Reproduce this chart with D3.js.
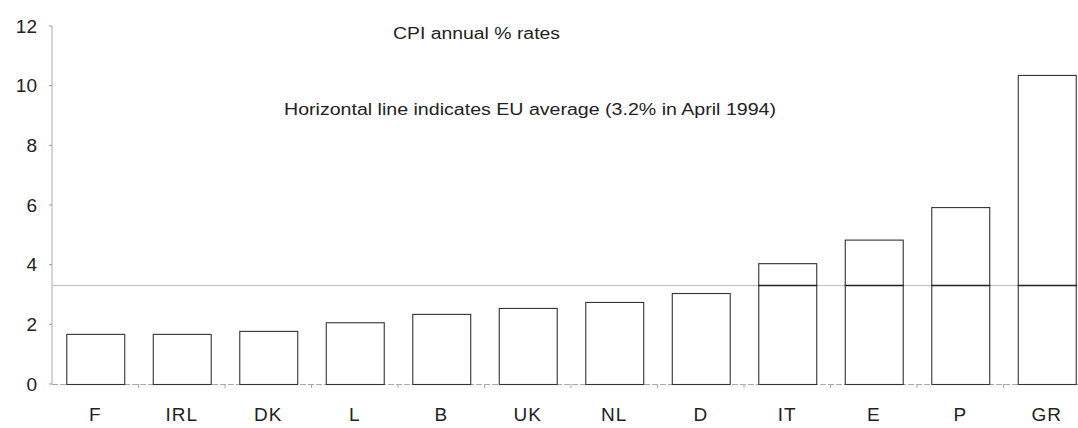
<!DOCTYPE html>
<html><head><meta charset="utf-8">
<script src="https://cdn.jsdelivr.net/npm/d3@7"></script>
<style>body{margin:0;background:#fff}svg{display:block}text{font-family:"Liberation Sans",Arial,sans-serif;fill:#222}</style>
</head><body><svg id="c" width="1078" height="428"></svg>
<script>
const categories = ["F","IRL","DK","L","B","UK","NL","D","IT","E","P","GR"];
const values = [1.68,1.68,1.78,2.07,2.35,2.55,2.75,3.05,4.05,4.84,5.93,10.36];
const euAverage = 3.3;
const yTicks = [0,2,4,6,8,10,12];
const title = "CPI annual % rates";
const note = "Horizontal line indicates EU average (3.2% in April 1994)";

const svg = d3.select("#c");
const x = d3.scaleBand().domain(categories).range([52,1090]).paddingInner(0.33).paddingOuter(0.165);
const y = d3.scaleLinear().domain([0,12]).range([384,26]);

// y axis
svg.append("line").attr("x1",52).attr("x2",52).attr("y1",y(12)).attr("y2",y(0)).attr("stroke","#aaa").attr("stroke-width",1);
svg.selectAll(".yt").data(yTicks).enter().append("line")
  .attr("x1",49).attr("x2",52).attr("y1",d=>y(d)).attr("y2",d=>y(d)).attr("stroke","#999");
svg.selectAll(".yl").data(yTicks).enter().append("text")
  .attr("x",37).attr("y",d=>y(d)).attr("dy","0.35em").attr("text-anchor","end")
  .attr("font-size",19).attr("transform",d=>`translate(${-37*0.08},0) scale(1.08,1)`).attr("transform",null)
  .text(d=>d);

// x axis
svg.append("line").attr("x1",52).attr("x2",1078).attr("y1",y(0)+0.5).attr("y2",y(0)+0.5).attr("stroke","#aaa").attr("stroke-dasharray","6,2");
svg.selectAll(".xt").data(categories.slice(1)).enter().append("line")
  .attr("x1",d=>x(d)-x.bandwidth()*0.33/0.67/2).attr("x2",d=>x(d)-x.bandwidth()*0.33/0.67/2)
  .attr("y1",y(0)).attr("y2",y(0)+4).attr("stroke","#aaa");
svg.selectAll(".xl").data(categories).enter().append("text")
  .attr("x",d=>x(d)+x.bandwidth()/2).attr("y",421).attr("text-anchor","middle")
  .attr("font-size",19).attr("letter-spacing",1).text(d=>d);

// average line (light)
svg.append("line").attr("x1",53).attr("x2",1078).attr("y1",y(euAverage)).attr("y2",y(euAverage)).attr("stroke","#bbb").attr("stroke-width",1);

// bars
svg.selectAll(".bar").data(values).enter().append("rect")
  .attr("x",(d,i)=>x(categories[i])+0.5).attr("y",d=>y(d)+0.5)
  .attr("width",x.bandwidth()).attr("height",d=>y(0)-y(d))
  .attr("fill","none").attr("stroke","#333").attr("stroke-width",1.1);

// average segments through bars above average
svg.selectAll(".avg").data(values.map((v,i)=>({v,c:categories[i]})).filter(d=>d.v>euAverage)).enter().append("line")
  .attr("x1",d=>x(d.c)).attr("x2",d=>x(d.c)+x.bandwidth()+1)
  .attr("y1",y(euAverage)).attr("y2",y(euAverage)).attr("stroke","#222").attr("stroke-width",1.5);

// texts
svg.append("text").attr("x",393).attr("y",39).attr("font-size",16)
  .attr("textLength",167).attr("lengthAdjust","spacingAndGlyphs").text(title);
svg.append("text").attr("x",284).attr("y",115).attr("font-size",16)
  .attr("textLength",492).attr("lengthAdjust","spacingAndGlyphs").text(note);
</script></body></html>
